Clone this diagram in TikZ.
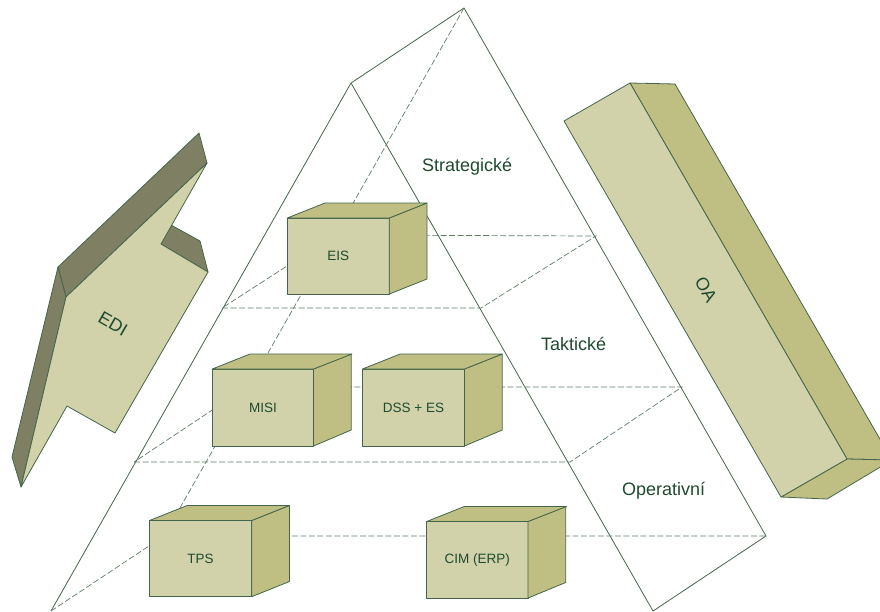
\documentclass[tikz,border=0pt]{standalone}
\usepackage{fontspec}
\setmainfont{Liberation Sans}
\definecolor{lineg}{HTML}{45654B}
\definecolor{dashg}{HTML}{5F7D66}
\definecolor{txtg}{HTML}{1F4A30}
\definecolor{frontc}{HTML}{D1D2A9}
\definecolor{sidec}{HTML}{BFBF83}
\definecolor{darkc}{HTML}{7F7F64}
\tikzset{
  x=1pt,y=-1pt,
  solidl/.style={draw=lineg,line width=0.8pt,line join=round},
  dashl/.style={draw=dashg,line width=0.7pt,dash pattern=on 6pt off 2.5pt},
  shape face/.style={draw=lineg,line width=0.8pt,line join=round,fill=#1},
  boxtext/.style={text=txtg,font=\fontsize{13.5}{16}\selectfont,inner sep=0pt},
  leveltext/.style={text=txtg,font=\fontsize{18}{22}\selectfont,inner sep=0pt},
  slabel/.style={text=txtg,font=\fontsize{18}{22}\selectfont,inner sep=0pt}
}
% #1 name, #2 left, #3 top, #4 right, #5 bottom, #6 text
\newcommand{\cube}[6]{%
  \path[shape face=frontc] (#2,#3) rectangle (#4,#5);
  \path[shape face=sidec] (#4,#3) -- ++(37.7,-15) -- ++(0,76) -- (#4,#5) -- cycle;
  \path[shape face=sidec] (#2,#3) -- ++(37.7,-15) -- ++(102,0) -- (#4,#3) -- cycle;
  \node[boxtext] (#1) at ({(#2+#4)/2},{(#3+#5)/2}) {#6};
}
\begin{document}
\begin{tikzpicture}
\useasboundingbox (0,0) rectangle (880,611);
\clip (0,0) rectangle (880,611);
\fill[white] (0,0) rectangle (880,611);
% pyramid corners
\coordinate (fa) at (351,83);
\coordinate (ba) at (464,8);
\coordinate (fl) at (51,611);
\coordinate (fr) at (653,611);
\coordinate (br) at (766,536);
\coordinate (bl) at (164,536);
\coordinate (ml) at (134,462);
\coordinate (mr) at (570,462);
\coordinate (mbl) at (247,387);
\coordinate (mbr) at (682,387);
\coordinate (ul) at (222,308);
\coordinate (ur) at (481,308);
\coordinate (ubl) at (335,235);
\coordinate (ubr) at (596,236);
% pyramid
\draw[solidl] (fl) -- (fa) -- (fr) -- (br) -- (ba) -- (fa);
\draw[dashl] (ba) -- (bl);
\draw[dashl] (fl) -- (bl) -- (br);
\draw[dashl] (ml) -- (mr) -- (mbr) -- (mbl) -- cycle;
\draw[dashl] (ul) -- (ur) -- (ubr) -- (ubl) -- cycle;
% cubes
\cube{eis}{287.3}{218}{389.3}{294}{EIS}
\cube{misi}{212.3}{369}{313.5}{446}{MISI}
\cube{dss}{362.5}{369}{464.5}{446}{DSS + ES}
\cube{tps}{149.5}{520.5}{251.7}{596.7}{TPS}
\cube{cim}{426.7}{521.5}{528}{598}{CIM (ERP)}
% EDI
\path[shape face=darkc] (199,133) -- (207,163) -- (66,297) -- (58,267) -- cycle;
\path[shape face=darkc] (58,267) -- (66,297) -- (21,487) -- (12,457) -- cycle;
\path[shape face=darkc] (171,225) -- (200,241) -- (208,272) -- (161,244) -- cycle;
\path[shape face=frontc] (207,163) -- (66,297) -- (21,487) -- (67,406) -- (115,433) -- (208,272) -- (161,244) -- cycle;
\node[slabel,rotate=-30] (edi) at (113,324) {EDI};
% OA
\path[shape face=sidec] (630,83) -- (675,84) -- (892,460) -- (847,459) -- cycle;
\path[shape face=sidec] (847,459) -- (892,460) -- (827,499) -- (781,497) -- cycle;
\path[shape face=frontc] (564,121) -- (630,83) -- (847,459) -- (781,497) -- cycle;
\node[slabel,rotate=-60] (oa) at (706,290) {OA};
% levels
\node[leveltext,anchor=west] (lst) at (422,167) {Strategické};
\node[leveltext,anchor=west] (lta) at (541,344) {Taktické};
\node[leveltext,anchor=west] (lop) at (622,491) {Operativní};
\end{tikzpicture}
\end{document}
